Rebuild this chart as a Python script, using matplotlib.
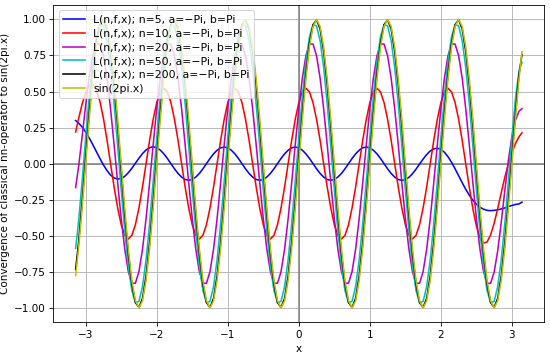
import numpy as np
import matplotlib
matplotlib.use("Agg")
import matplotlib.pyplot as plt

# sampling grid of the x axis: -pi, -3.10 ... 3.10 (step 0.05), pi
x = np.concatenate([[-np.pi], np.round(np.arange(-3.10, 3.101, 0.05), 2), [np.pi]])

# L(n,f,x), n=5
y_n5 = [0.299, 0.281, 0.254,
        0.219, 0.178, 0.132, 0.084, 0.036, -0.009, -0.048, -0.079, -0.099, -0.107, -0.103, -0.088, -0.063, -0.032, 0.003, 0.038, 0.070, 0.095, 0.111, 0.117,
        0.111, 0.094, 0.068, 0.036, 0.0, -0.036, -0.068, -0.093, -0.110, -0.115, -0.110, -0.093, -0.068, -0.036, 0.0, 0.036, 0.068, 0.093, 0.110, 0.115,
        0.110, 0.093, 0.068, 0.036, 0.0, -0.036, -0.068, -0.093, -0.110, -0.115, -0.110, -0.093, -0.068, -0.036, 0.0, 0.036, 0.068, 0.093, 0.110, 0.115,
        0.110, 0.093, 0.068, 0.036, 0.0, -0.036, -0.068, -0.093, -0.110, -0.115, -0.110, -0.093, -0.068, -0.036, 0.0, 0.036, 0.068, 0.093, 0.110, 0.115,
        0.110, 0.093, 0.068, 0.036, 0.0, -0.036, -0.068, -0.093, -0.110, -0.116, -0.111, -0.095, -0.070, -0.038, -0.003, 0.032, 0.063, 0.088, 0.103, 0.107,
        0.099, 0.079, 0.048, 0.009, -0.036, -0.084, -0.132, -0.178, -0.219, -0.254, -0.281, -0.302, -0.316, -0.324, -0.326, -0.324, -0.320, -0.314, -0.307, -0.297,
        -0.290, -0.283, -0.279, -0.267]

# L(n,f,x), n=10
y_n10 = [0.220, 0.311, 0.413,
         0.494, 0.543, 0.551, 0.514, 0.433, 0.313, 0.164, 0.002, -0.161, -0.307, -0.423, -0.497, -0.523, -0.497, -0.423, -0.307, -0.162, 0.0, 0.162, 0.307,
         0.423, 0.497, 0.523, 0.497, 0.423, 0.307, 0.162, 0.0, -0.162, -0.307, -0.423, -0.497, -0.523, -0.497, -0.423, -0.307, -0.162, 0.0, 0.162, 0.307,
         0.423, 0.497, 0.523, 0.497, 0.423, 0.307, 0.162, 0.0, -0.162, -0.307, -0.423, -0.497, -0.523, -0.497, -0.423, -0.307, -0.162, 0.0, 0.162, 0.307,
         0.423, 0.497, 0.523, 0.497, 0.423, 0.307, 0.162, 0.0, -0.162, -0.307, -0.423, -0.497, -0.523, -0.497, -0.423, -0.307, -0.162, 0.0, 0.162, 0.307,
         0.423, 0.497, 0.523, 0.497, 0.423, 0.307, 0.162, 0.0, -0.162, -0.307, -0.423, -0.497, -0.523, -0.497, -0.423, -0.307, -0.162, 0.0, 0.162, 0.307,
         0.423, 0.497, 0.523, 0.497, 0.423, 0.307, 0.161, -0.002, -0.164, -0.313, -0.433, -0.514, -0.551, -0.543, -0.494, -0.413, -0.311, -0.201, -0.095, -0.001,
         0.078, 0.140, 0.186, 0.214]

# L(n,f,x), n=20
y_n20 = [-0.166, -0.022, 0.187,
         0.406, 0.604, 0.752, 0.830, 0.829, 0.748, 0.593, 0.381, 0.131, -0.131, -0.381, -0.593, -0.748, -0.829, -0.829, -0.748, -0.593, -0.381, -0.131, 0.131,
         0.381, 0.593, 0.748, 0.829, 0.829, 0.748, 0.593, 0.381, 0.131, -0.131, -0.381, -0.593, -0.748, -0.829, -0.829, -0.748, -0.593, -0.381, -0.131, 0.131,
         0.381, 0.593, 0.748, 0.829, 0.829, 0.748, 0.593, 0.381, 0.131, -0.131, -0.381, -0.593, -0.748, -0.829, -0.829, -0.748, -0.593, -0.381, -0.131, 0.131,
         0.381, 0.593, 0.748, 0.829, 0.829, 0.748, 0.593, 0.381, 0.131, -0.131, -0.381, -0.593, -0.748, -0.829, -0.829, -0.748, -0.593, -0.381, -0.131, 0.131,
         0.381, 0.593, 0.748, 0.829, 0.829, 0.748, 0.593, 0.381, 0.131, -0.131, -0.381, -0.593, -0.748, -0.829, -0.829, -0.748, -0.593, -0.381, -0.131, 0.131,
         0.381, 0.593, 0.748, 0.829, 0.829, 0.748, 0.593, 0.381, 0.131, -0.131, -0.381, -0.593, -0.748, -0.829, -0.830, -0.752, -0.604, -0.406, -0.187, 0.022,
         0.190, 0.302, 0.363, 0.382]

# L(n,f,x), n=50
y_n50 = [-0.588, -0.404, -0.120,
         0.182, 0.468, 0.709, 0.880, 0.964, 0.955, 0.852, 0.665, 0.414, 0.122, -0.182, -0.468, -0.709, -0.880, -0.964, -0.955, -0.852, -0.665, -0.414, -0.122,
         0.182, 0.468, 0.709, 0.880, 0.964, 0.955, 0.852, 0.665, 0.414, 0.122, -0.182, -0.468, -0.709, -0.880, -0.964, -0.955, -0.852, -0.665, -0.414, -0.122,
         0.182, 0.468, 0.709, 0.880, 0.964, 0.955, 0.852, 0.665, 0.414, 0.122, -0.182, -0.468, -0.709, -0.880, -0.964, -0.955, -0.852, -0.665, -0.414, -0.122,
         0.182, 0.468, 0.709, 0.880, 0.964, 0.955, 0.852, 0.665, 0.414, 0.122, -0.182, -0.468, -0.709, -0.880, -0.964, -0.955, -0.852, -0.665, -0.414, -0.122,
         0.182, 0.468, 0.709, 0.880, 0.964, 0.955, 0.852, 0.665, 0.414, 0.122, -0.182, -0.468, -0.709, -0.880, -0.964, -0.955, -0.852, -0.665, -0.414, -0.122,
         0.182, 0.468, 0.709, 0.880, 0.964, 0.955, 0.852, 0.665, 0.414, 0.122, -0.182, -0.468, -0.709, -0.880, -0.964, -0.955, -0.852, -0.665, -0.414, -0.122,
         0.180, 0.455, 0.641, 0.702]

# L(n,f,x), n=200
y_n200 = [-0.733, -0.548, -0.263,
          0.047, 0.353, 0.624, 0.834, 0.963, 0.997, 0.934, 0.779, 0.548, 0.263, -0.047, -0.353, -0.624, -0.834, -0.963, -0.997, -0.934, -0.779, -0.548, -0.263,
          0.047, 0.353, 0.624, 0.834, 0.963, 0.997, 0.934, 0.779, 0.548, 0.263, -0.047, -0.353, -0.624, -0.834, -0.963, -0.997, -0.934, -0.779, -0.548, -0.263,
          0.047, 0.353, 0.624, 0.834, 0.963, 0.997, 0.934, 0.779, 0.548, 0.263, -0.047, -0.353, -0.624, -0.834, -0.963, -0.997, -0.934, -0.779, -0.548, -0.263,
          0.047, 0.353, 0.624, 0.834, 0.963, 0.997, 0.934, 0.779, 0.548, 0.263, -0.047, -0.353, -0.624, -0.834, -0.963, -0.997, -0.934, -0.779, -0.548, -0.263,
          0.047, 0.353, 0.624, 0.834, 0.963, 0.997, 0.934, 0.779, 0.548, 0.263, -0.047, -0.353, -0.624, -0.834, -0.963, -0.997, -0.934, -0.779, -0.548, -0.263,
          0.047, 0.353, 0.624, 0.834, 0.963, 0.997, 0.934, 0.779, 0.548, 0.263, -0.047, -0.353, -0.624, -0.834, -0.963, -0.997, -0.934, -0.779, -0.548, -0.263,
          0.047, 0.353, 0.623, 0.756]

# sin(2pi.x)
y_sin = [-0.777, -0.588, -0.309,
         0.0, 0.309, 0.588, 0.809, 0.951, 1.0, 0.951, 0.809, 0.588, 0.309, 0.0, -0.309, -0.588, -0.809, -0.951, -1.0, -0.951, -0.809, -0.588, -0.309,
         0.0, 0.309, 0.588, 0.809, 0.951, 1.0, 0.951, 0.809, 0.588, 0.309, 0.0, -0.309, -0.588, -0.809, -0.951, -1.0, -0.951, -0.809, -0.588, -0.309,
         0.0, 0.309, 0.588, 0.809, 0.951, 1.0, 0.951, 0.809, 0.588, 0.309, 0.0, -0.309, -0.588, -0.809, -0.951, -1.0, -0.951, -0.809, -0.588, -0.309,
         0.0, 0.309, 0.588, 0.809, 0.951, 1.0, 0.951, 0.809, 0.588, 0.309, 0.0, -0.309, -0.588, -0.809, -0.951, -1.0, -0.951, -0.809, -0.588, -0.309,
         0.0, 0.309, 0.588, 0.809, 0.951, 1.0, 0.951, 0.809, 0.588, 0.309, 0.0, -0.309, -0.588, -0.809, -0.951, -1.0, -0.951, -0.809, -0.588, -0.309,
         0.0, 0.309, 0.588, 0.809, 0.951, 1.0, 0.951, 0.809, 0.588, 0.309, 0.0, -0.309, -0.588, -0.809, -0.951, -1.0, -0.951, -0.809, -0.588, -0.309,
         0.0, 0.309, 0.588, 0.777]

series = [y_n5, y_n10, y_n20, y_n50, y_n200, y_sin]
labels = ["L(n,f,x); n=5, a=\u2212Pi, b=Pi",
          "L(n,f,x); n=10, a=\u2212Pi, b=Pi",
          "L(n,f,x); n=20, a=\u2212Pi, b=Pi",
          "L(n,f,x); n=50, a=\u2212Pi, b=Pi",
          "L(n,f,x); n=200, a=\u2212Pi, b=Pi",
          "sin(2pi.x)"]
colors = ["b", "r", "m", "c", "k", "y"]

DPI = 75
fig = plt.figure(figsize=(550 / DPI, 353 / DPI), dpi=DPI)
ax = fig.add_axes([53.3 / 550, 1 - 322.3 / 353, (544.3 - 53.3) / 550, (322.3 - 5.0) / 353])

ax.axhline(0, color="gray")
ax.axvline(0, color="gray")
for y, c, lab in zip(series, colors, labels):
    ax.plot(x, y, color=c, label=lab)

ax.grid(True)
ax.set_xlabel("x")
ax.set_ylabel("Convergence of classical nn-operator to sin(2pi.x)")
ax.legend(loc="upper left", fontsize=10.4, labelspacing=0.35)

fig.savefig("out.png", dpi=DPI)
